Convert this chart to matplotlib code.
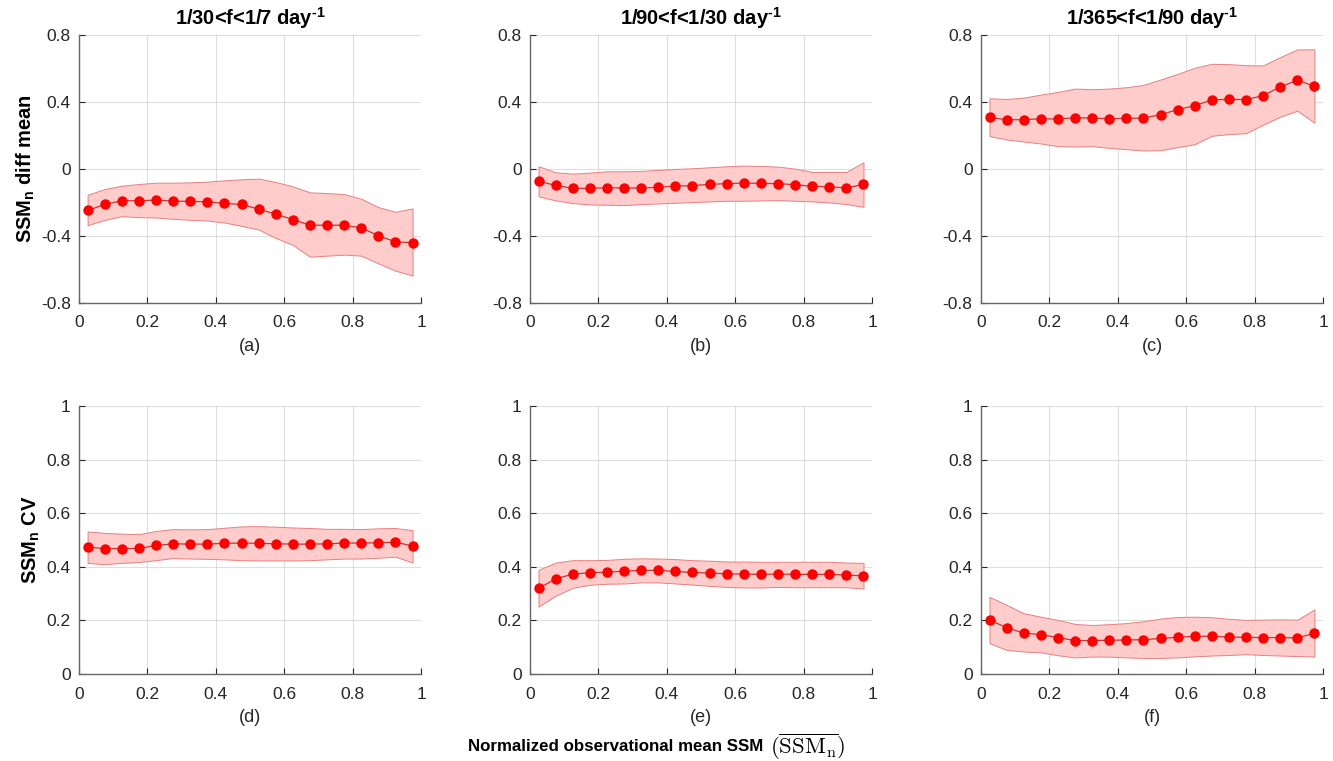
"""
Шесть панелей: разность и CV нормированной SSM по диапазонам частот
"""

import numpy as np
import matplotlib
matplotlib.use("Agg")
import matplotlib.pyplot as plt

plt.rcParams['font.family'] = ['Liberation Sans', 'DejaVu Sans']
plt.rcParams['mathtext.fontset'] = 'custom'
plt.rcParams['mathtext.rm'] = 'Liberation Sans:bold'
plt.rcParams['mathtext.bf'] = 'Liberation Sans:bold'

# Центры бинов по оси x
x_bins = [0.025, 0.075, 0.125, 0.175, 0.225, 0.275, 0.325, 0.375, 0.425, 0.475,
          0.525, 0.575, 0.625, 0.675, 0.725, 0.775, 0.825, 0.875, 0.925, 0.975]

band_titles = ['1/30<f<1/7 day', '1/90<f<1/30 day', '1/365<f<1/90 day']
panel_labels = ['(a)', '(b)', '(c)', '(d)', '(e)', '(f)']

# (a) diff mean, 1/30<f<1/7
a_mean = [-0.248, -0.212, -0.19, -0.19, -0.186, -0.192, -0.194, -0.196, -0.206, -0.212,
          -0.24, -0.27, -0.302, -0.336, -0.336, -0.336, -0.352, -0.398, -0.436, -0.44]
a_upper = [-0.154, -0.12, -0.10, -0.09, -0.082, -0.082, -0.08, -0.076, -0.068, -0.062,
           -0.058, -0.078, -0.104, -0.14, -0.144, -0.15, -0.178, -0.228, -0.256, -0.236]
a_lower = [-0.336, -0.304, -0.282, -0.288, -0.29, -0.298, -0.304, -0.308, -0.32, -0.34,
           -0.362, -0.412, -0.454, -0.524, -0.518, -0.512, -0.518, -0.564, -0.608, -0.636]

# (b) diff mean, 1/90<f<1/30
b_mean = [-0.074, -0.098, -0.116, -0.116, -0.112, -0.114, -0.114, -0.11, -0.102, -0.1,
          -0.092, -0.088, -0.084, -0.086, -0.088, -0.094, -0.104, -0.106, -0.114, -0.092]
b_upper = [0.016, -0.02, -0.028, -0.022, -0.014, -0.014, -0.012, -0.006, 0.0, 0.004,
           0.01, 0.016, 0.02, 0.018, 0.014, 0.002, -0.018, -0.018, -0.018, 0.04]
b_lower = [-0.164, -0.188, -0.204, -0.212, -0.214, -0.216, -0.21, -0.206, -0.202, -0.198,
           -0.194, -0.19, -0.19, -0.188, -0.186, -0.19, -0.194, -0.2, -0.21, -0.226]

# (c) diff mean, 1/365<f<1/90
c_mean = [0.308, 0.294, 0.294, 0.30, 0.298, 0.306, 0.304, 0.30, 0.302, 0.304,
          0.324, 0.354, 0.378, 0.412, 0.416, 0.414, 0.438, 0.49, 0.53, 0.494]
c_upper = [0.422, 0.418, 0.426, 0.444, 0.46, 0.48, 0.476, 0.48, 0.488, 0.502,
           0.534, 0.568, 0.604, 0.628, 0.626, 0.62, 0.618, 0.668, 0.714, 0.714]
c_lower = [0.196, 0.176, 0.164, 0.152, 0.136, 0.134, 0.136, 0.126, 0.118, 0.11,
           0.112, 0.13, 0.148, 0.198, 0.208, 0.214, 0.264, 0.312, 0.348, 0.276]

# (d) CV, 1/30<f<1/7
d_mean = [0.474, 0.468, 0.468, 0.469, 0.48, 0.486, 0.485, 0.485, 0.488, 0.489,
          0.488, 0.486, 0.485, 0.485, 0.486, 0.489, 0.489, 0.49, 0.492, 0.478]
d_upper = [0.532, 0.527, 0.524, 0.522, 0.534, 0.541, 0.540, 0.541, 0.546, 0.551,
           0.552, 0.55, 0.547, 0.545, 0.542, 0.542, 0.541, 0.544, 0.545, 0.537]
d_lower = [0.415, 0.410, 0.415, 0.418, 0.425, 0.433, 0.431, 0.430, 0.428, 0.425,
           0.424, 0.424, 0.424, 0.425, 0.428, 0.431, 0.431, 0.434, 0.438, 0.416]

# (e) CV, 1/90<f<1/30
e_mean = [0.320, 0.355, 0.373, 0.378, 0.380, 0.384, 0.387, 0.387, 0.383, 0.379,
          0.377, 0.374, 0.373, 0.372, 0.373, 0.372, 0.372, 0.372, 0.369, 0.367]
e_upper = [0.389, 0.416, 0.425, 0.425, 0.426, 0.430, 0.432, 0.431, 0.429, 0.425,
           0.423, 0.42, 0.42, 0.419, 0.419, 0.419, 0.419, 0.419, 0.416, 0.415]
e_lower = [0.252, 0.292, 0.322, 0.333, 0.337, 0.338, 0.342, 0.342, 0.338, 0.334,
           0.329, 0.325, 0.323, 0.323, 0.325, 0.324, 0.324, 0.324, 0.324, 0.319]

# (f) CV, 1/365<f<1/90
f_mean = [0.202, 0.173, 0.153, 0.147, 0.136, 0.125, 0.125, 0.126, 0.127, 0.128,
          0.133, 0.137, 0.141, 0.141, 0.138, 0.137, 0.136, 0.136, 0.135, 0.152]
f_upper = [0.288, 0.258, 0.227, 0.214, 0.202, 0.187, 0.183, 0.186, 0.19, 0.197,
           0.207, 0.213, 0.214, 0.212, 0.206, 0.202, 0.203, 0.204, 0.203, 0.241]
f_lower = [0.115, 0.09, 0.084, 0.081, 0.07, 0.062, 0.065, 0.065, 0.062, 0.06,
           0.06, 0.062, 0.066, 0.069, 0.071, 0.074, 0.071, 0.069, 0.067, 0.065]

x_ticks = [0, 0.2, 0.4, 0.6, 0.8, 1]
x_tick_labels = ['0', '0.2', '0.4', '0.6', '0.8', '1']
top_ticks = [-0.8, -0.4, 0, 0.4, 0.8]
top_tick_labels = ['-0.8', '-0.4', '0', '0.4', '0.8']
bot_ticks = [0, 0.2, 0.4, 0.6, 0.8, 1]
bot_tick_labels = ['0', '0.2', '0.4', '0.6', '0.8', '1']

panels = [
    (a_mean, a_upper, a_lower), (b_mean, b_upper, b_lower), (c_mean, c_upper, c_lower),
    (d_mean, d_upper, d_lower), (e_mean, e_upper, e_lower), (f_mean, f_upper, f_lower),
]

fig = plt.figure(figsize=(13.33, 7.61), dpi=100)

lefts = [0.0593, 0.3976, 0.7359]
bottoms = [0.602, 0.1143]
width, height = 0.2566, 0.352
dark = '#262626'

for k, (mean, upper, lower) in enumerate(panels):
    row, col = divmod(k, 3)
    ax = fig.add_axes([lefts[col], bottoms[row], width, height])

    ax.fill_between(x_bins, lower, upper, facecolor=(1.0, 0.8, 0.8),
                    edgecolor=(0.9, 0.5, 0.5), linewidth=0.7, zorder=2)
    ax.plot(x_bins, mean, '-', color=(0.8, 0.2, 0.2), linewidth=0.9, zorder=3)
    ax.plot(x_bins, mean, 'o', color='red', markersize=7.5, markeredgewidth=0, zorder=4)

    ax.set_xlim(0, 1)
    ax.set_xticks(x_ticks)
    ax.set_xticklabels(x_tick_labels)
    if row == 0:
        ax.set_ylim(-0.8, 0.8)
        ax.set_yticks(top_ticks)
        ax.set_yticklabels(top_tick_labels)
    else:
        ax.set_ylim(0, 1)
        ax.set_yticks(bot_ticks)
        ax.set_yticklabels(bot_tick_labels)

    ax.grid(True, color='#b0b0b0', alpha=0.4, linewidth=0.8)
    ax.set_axisbelow(True)
    for side in ['top', 'right']:
        ax.spines[side].set_visible(False)
    for side in ['left', 'bottom']:
        ax.spines[side].set_color('#666666')
        ax.spines[side].set_linewidth(1.0)
    ax.tick_params(direction='in', length=4, width=0.8, colors=dark,
                   labelsize=12.5, pad=9)
    ax.tick_params(axis='y', pad=6)

    ax.text(0.5, -0.162, panel_labels[k], transform=ax.transAxes,
            ha='center', va='center', fontsize=13, color=dark)

    if row == 0:
        ax.set_title(band_titles[col] + r'$^{\text{-1}}$', fontsize=14.5,
                     fontweight='bold', pad=7)
    if col == 0:
        if row == 0:
            ax.set_ylabel(r'SSM$_{\mathbf{n}}$ diff mean', fontsize=14.5,
                          fontweight='bold', labelpad=3)
        else:
            ax.set_ylabel(r'SSM$_{\mathbf{n}}$ CV', fontsize=14.5,
                          fontweight='bold', labelpad=3)

fig.text(0.351, 0.019, 'Normalized observational mean SSM', ha='left',
         va='center', fontsize=12.2, fontweight='bold')
fig.text(0.578, 0.019, r'$(\overline{\mathrm{SSM}_\mathrm{n}})$', ha='left',
         va='center', fontsize=16.5, math_fontfamily='cm')

fig.savefig('out.png', dpi=100)
